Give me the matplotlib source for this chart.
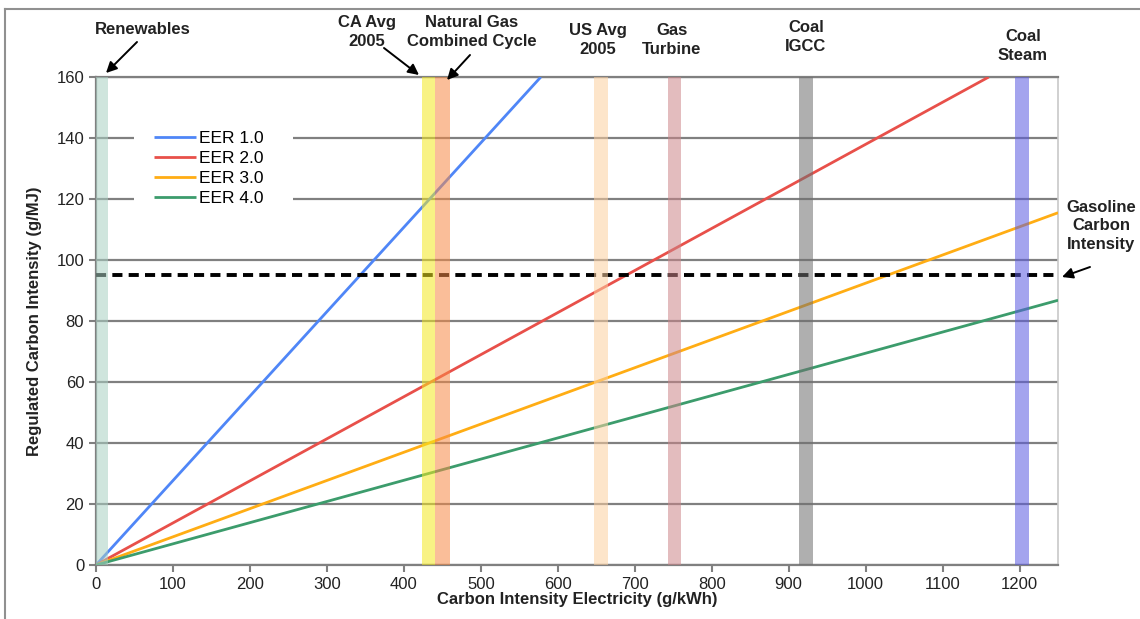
import matplotlib
matplotlib.use('agg')
import matplotlib.pyplot as plt
from matplotlib.lines import Line2D
from matplotlib.patches import FancyArrowPatch, Rectangle

plt.rcParams['font.family'] = ['Liberation Sans', 'DejaVu Sans']

# EER lines: straight from the origin to the visible end point
eer_labels = ['EER 1.0', 'EER 2.0', 'EER 3.0', 'EER 4.0']
eer_x_end = [578, 1160, 1250, 1250]
eer_y_end = [160, 160, 115.5, 86.8]
eer_colors = ['#4f86f7', '#e8504a', '#ffad14', '#3c9c6c']

# generation technologies (g/kWh band ranges)
tech_names = ['Renewables', 'CA Avg\n2005', 'Natural Gas\nCombined Cycle', 'US Avg\n2005',
              'Gas\nTurbine', 'Coal\nIGCC', 'Coal\nSteam']
tech_lo = [0, 423, 441, 647, 743, 913, 1194]
tech_hi = [16, 441, 460, 665, 760, 931, 1212]
tech_colors = ['#a9d0c2', '#f4e820', '#f78a45', '#fdd0a0', '#cc8589', '#6e6e6e', '#5a5ae0']

gasoline_ci = 95

fig = plt.figure(figsize=(11.4, 6.19), dpi=100)
ax = fig.add_axes([0.0842, 0.0872, 0.8439, 0.7884])

for lab, xe, ye, c in zip(eer_labels, eer_x_end, eer_y_end, eer_colors):
    ax.plot([0, xe], [0, ye], color=c, lw=2, label=lab, zorder=3, solid_capstyle='butt')

ax.plot([0, 1250], [gasoline_ci, gasoline_ci], color='black', lw=2.8, ls=(0, (2.6, 1.6)), zorder=3)

for lo, hi, c in zip(tech_lo, tech_hi, tech_colors):
    ax.axvspan(lo, hi, color=c, alpha=0.55, lw=0, zorder=4)

ax.set_xlim(0, 1250)
ax.set_ylim(0, 160)
ax.set_xticks(range(0, 1201, 100))
ax.set_yticks(range(0, 161, 20))
ax.yaxis.grid(True, color='#808080', lw=1.6, zorder=1)
ax.set_axisbelow(True)
for s in ['left', 'bottom', 'top']:
    ax.spines[s].set_color('#808080')
    ax.spines[s].set_linewidth(1.6)
ax.spines['right'].set_color('#c8c8c8')
ax.spines['right'].set_linewidth(1.2)
ax.tick_params(axis='both', colors='#808080', labelcolor='#222222', labelsize=12,
               length=5, width=1.5, direction='out')

ax.set_xlabel('Carbon Intensity Electricity (g/kWh)', fontsize=12, fontweight='bold',
              color='#222222', labelpad=0)
ax.set_ylabel('Regulated Carbon Intensity (g/MJ)', fontsize=12, fontweight='bold',
              color='#222222', labelpad=10)

# white legend box (wider than the legend itself, hiding the grid behind it)
ax.add_patch(Rectangle((0.039, 0.74), 0.166, 0.15, transform=ax.transAxes,
                       facecolor='white', edgecolor='none', zorder=2))
leg = ax.legend(loc='upper left', bbox_to_anchor=(0.055, 0.9), frameon=True, fontsize=12.5,
                handlelength=2.4, handletextpad=0.2, labelspacing=0.28, borderpad=0.3,
                borderaxespad=0)
leg.get_frame().set_facecolor('white')
leg.get_frame().set_edgecolor('white')
leg.get_frame().set_alpha(1)
leg.set_zorder(5)

# annotations in figure pixels (top-left origin)
W, H = 1140, 619
def fxy(px, py):
    return (px / W, 1 - py / H)

label_pos = [(143, 29), (367, 32), (472, 32), (598, 40), (672, 40), (806, 37), (1023, 46)]
for name, (px, py) in zip(tech_names, label_pos):
    fig.text(*fxy(px, py), name, ha='center', va='center', fontsize=12, fontweight='bold',
             color='#222222', linespacing=1.3)
fig.text(*fxy(1101, 226), 'Gasoline\nCarbon\nIntensity', ha='center', va='center', fontsize=12,
         fontweight='bold', color='#222222', linespacing=1.3)

arrows = [((137, 42), (106, 73)), ((384, 48), (419, 75)), ((470, 55), (447, 80)),
          ((1090, 267), (1062, 277))]
for (x0, y0), (x1, y1) in arrows:
    fig.patches.append(FancyArrowPatch(
        fxy(x0, y0), fxy(x1, y1), transform=fig.transFigure, arrowstyle='-|>',
        mutation_scale=16, lw=1.4, color='black', shrinkA=0, shrinkB=0))

# outer frame
fig.add_artist(Line2D([5 / W, 5 / W], [0, 1 - 9 / H], transform=fig.transFigure,
                      color='#909090', lw=1.5))
fig.add_artist(Line2D([5 / W, 1], [1 - 9 / H, 1 - 9 / H], transform=fig.transFigure,
                      color='#909090', lw=1.5))

fig.savefig('out.png', dpi=100)
